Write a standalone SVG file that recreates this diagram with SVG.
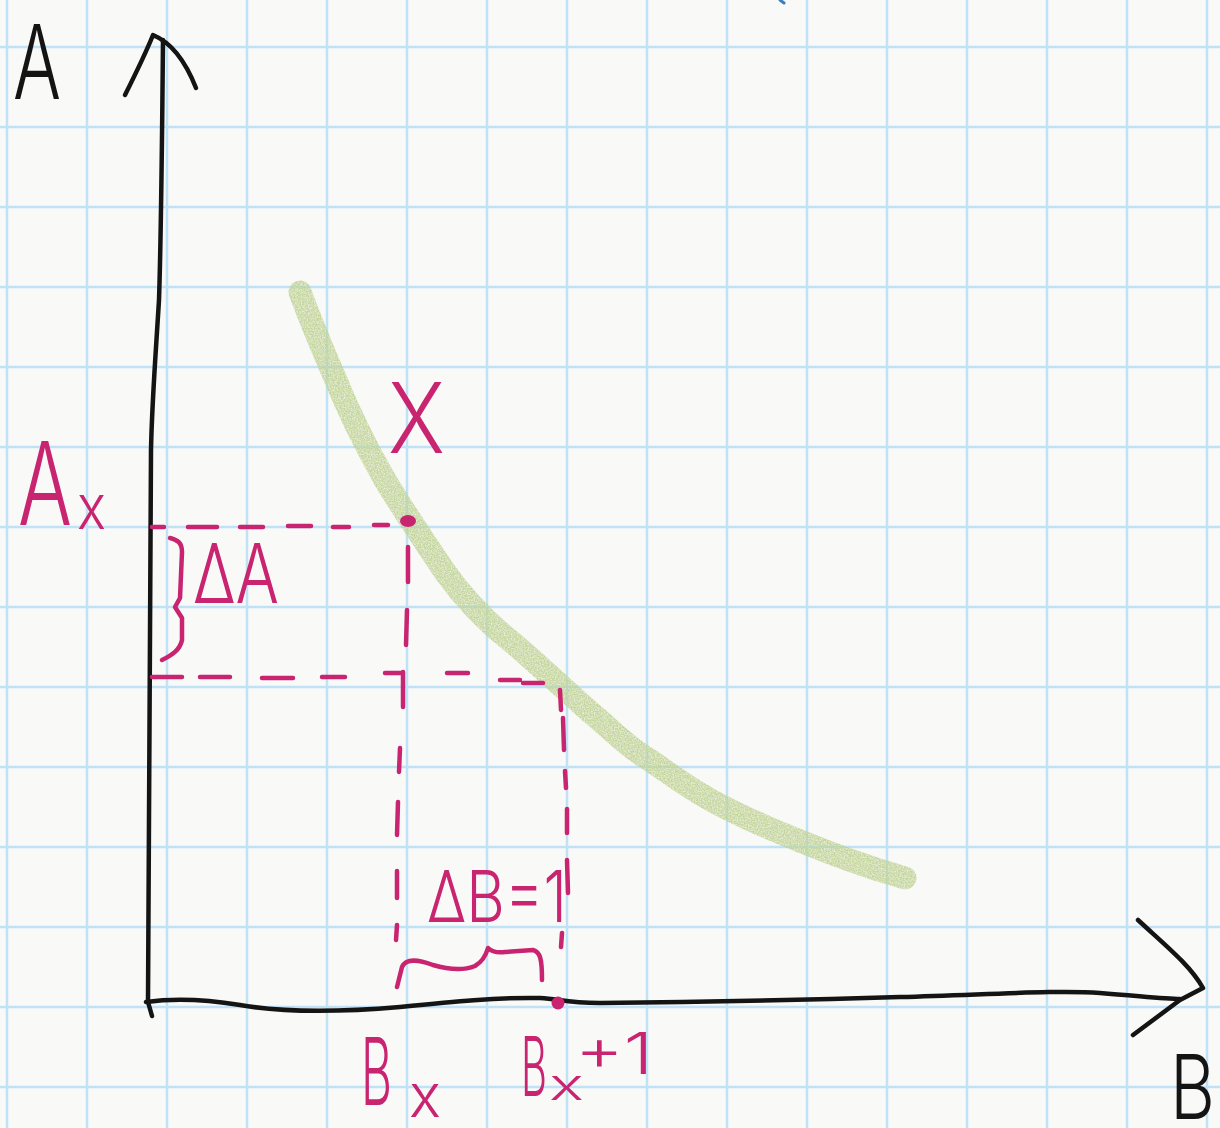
<svg xmlns="http://www.w3.org/2000/svg" width="1220" height="1128" viewBox="0 0 1220 1128">
<style>
.grid{stroke:#bfe2f6;stroke-width:2.5;fill:none}
.ink{stroke:#141414;stroke-width:4.5;fill:none;stroke-linecap:round;stroke-linejoin:round}
.mg{stroke:#c8246f;stroke-width:4.5;fill:none;stroke-linecap:round;stroke-linejoin:round}
.tk{fill:#141414;font-family:Inter,"Liberation Sans",sans-serif;font-weight:300}
.tm{fill:#c8246f;font-family:Inter,"Liberation Sans",sans-serif;font-weight:300}
.curve{stroke:#bfd293;stroke-width:23;fill:none;stroke-linecap:round;stroke-linejoin:round}
</style>
<defs>
<filter id="chalk" x="-5%" y="-5%" width="110%" height="110%">
<feTurbulence type="fractalNoise" baseFrequency="0.7" numOctaves="2" seed="3" result="n"/>
<feColorMatrix in="n" type="matrix" values="0 0 0 0 0  0 0 0 0 0  0 0 0 0 0  0 0 0 -1.4 1.45" result="a"/>
<feComposite in="SourceGraphic" in2="a" operator="in"/>
</filter>
</defs>
<rect width="1220" height="1128" fill="#f9f9f8"/>
<g id="grid">
<path class="grid" d="M7,0V1128M87,0V1128M167,0V1128M247,0V1128M327,0V1128M407,0V1128M487,0V1128M567,0V1128M647,0V1128M727,0V1128M807,0V1128M887,0V1128M967,0V1128M1047,0V1128M1127,0V1128M1207,0V1128"/>
<path class="grid" d="M0,47H1220M0,127H1220M0,207H1220M0,287H1220M0,367H1220M0,447H1220M0,527H1220M0,607H1220M0,687H1220M0,767H1220M0,847H1220M0,927H1220M0,1007H1220M0,1087H1220"/>
<path d="M780,0 L784,3" stroke="#3a7fc0" stroke-width="3" stroke-linecap="round"/>
</g>
<g id="curve" filter="url(#chalk)" opacity="0.9">
<path class="curve" d="M300,292 C312,325 322,348 335,378 C348,410 365,445 385,480 C400,505 420,535 445,572 C465,600 490,625 513,643 C540,666 565,690 590,712 C610,728 625,745 645,757 C668,772 690,790 720,805 C745,818 770,829 800,841 C830,853 860,865 905,878"/>
</g>
<g id="axes">
<path class="ink" d="M163,40 C162,150 161,240 159,300 C156,350 152,400 151,450 L148,1002 L152,1016"/>
<path class="ink" d="M125,95 C135,75 145,55 153,35 C170,42 185,60 196,88"/>
<path class="ink" d="M146,1002 C180,997 210,1000 240,1005 C280,1012 330,1013 400,1007 C450,1002 500,997 540,998 C560,999 565,1003 600,1003 C700,1002 800,1000 900,997 C1000,994 1060,990 1100,993 C1140,996 1165,999 1180,999"/>
<path class="ink" d="M1138,920 C1165,945 1190,965 1203,988 L1180,1000 L1133,1035"/>
</g>
<g id="guides">
<path class="mg" d="M152,527H164M188,527H217M240,527H263M288,526H311M333,527H349M374,525H388"/>
<path class="mg" d="M152,677H182M200,677H230M262,678H293M322,677H345M385,673H402M447,673H468M500,680H520M523,683H543"/>
<path class="mg" d="M408,547L408,582M407,610L406,645M403,672L403,707M400,748L399,772M398,802L397,835M397,871L397,898M397,925L396,940"/>
<path class="mg" d="M560,690L561,710M563,718L564,750M565,771L566,788M567,809L567,833M567,860L568,893M562,933L561,947"/>
<path class="mg" d="M170,538 C178,540 182,543 182,552 L180,598 L175,607 L182,618 L182,640 C180,650 172,655 162,660"/>
<path class="mg" d="M397,987 L402,967 C405,960 415,958 433,965 C450,970 465,970 475,966 C482,962 486,955 488,948 C492,952 497,953 505,952 L533,950 C540,952 542,958 542,980"/>
<ellipse cx="408" cy="521" rx="8" ry="6" fill="#c8246f"/>
<circle cx="558" cy="1003" r="6.5" fill="#c8246f"/>
</g>
<g id="labels">
<text class="tk" x="13" y="99" font-size="103" textLength="48" lengthAdjust="spacingAndGlyphs">A</text>
<text class="tk" x="1170" y="1119" font-size="90" textLength="45" lengthAdjust="spacingAndGlyphs">B</text>
<text class="tm" font-size="115"><tspan x="18" y="525" textLength="54" lengthAdjust="spacingAndGlyphs">A</tspan><tspan x="77" y="529" font-size="62" textLength="29" lengthAdjust="spacingAndGlyphs">x</tspan></text>
<text class="tm" x="193" y="603" font-size="82" textLength="86" lengthAdjust="spacingAndGlyphs">ΔA</text>
<text class="tm" x="388" y="453" font-size="98" textLength="57" lengthAdjust="spacingAndGlyphs">X</text>
<text class="tm" x="427" y="922" font-size="72" textLength="140" lengthAdjust="spacingAndGlyphs">ΔB=1</text>
<text class="tm" font-size="94"><tspan x="361" y="1105" textLength="31" lengthAdjust="spacingAndGlyphs">B</tspan><tspan x="409" y="1117" font-size="60" textLength="32" lengthAdjust="spacingAndGlyphs">x</tspan></text>
<text class="tm" font-size="82"><tspan x="521" y="1096" textLength="26" lengthAdjust="spacingAndGlyphs">B</tspan><tspan x="549" y="1100" font-size="44" textLength="35" lengthAdjust="spacingAndGlyphs">x</tspan><tspan x="575" y="1074" font-size="58" textLength="78" lengthAdjust="spacingAndGlyphs">+1</tspan></text>
</g>
</svg>
